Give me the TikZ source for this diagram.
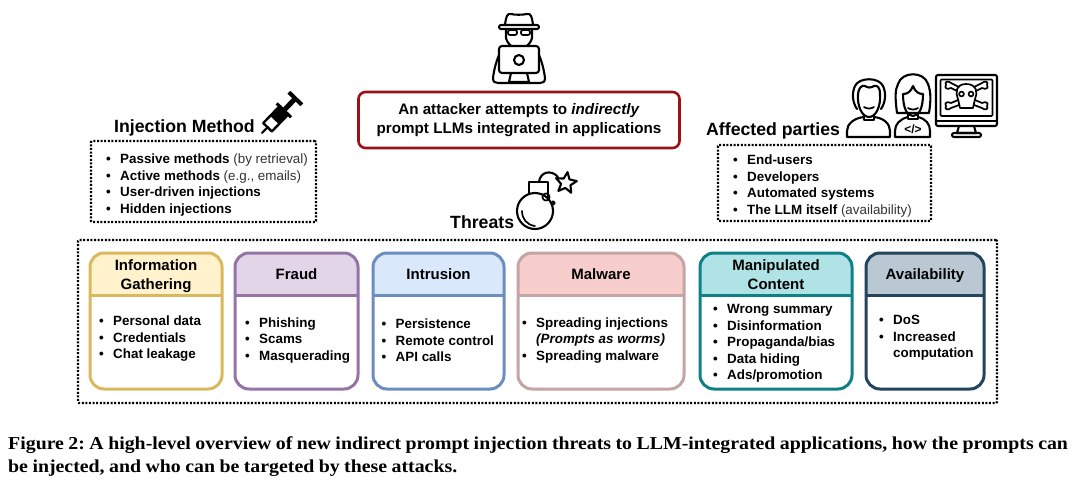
\documentclass[tikz,border=0pt]{standalone}
\usepackage{fontspec}
\setmainfont{Liberation Sans}
\newfontfamily\capfont[FakeStretch=1.09,WordSpace=0.9]{Liberation Serif}
\usetikzlibrary{shapes.geometric}
\definecolor{attack}{HTML}{A00F14}
\definecolor{infofill}{HTML}{FFF2CC}
\definecolor{infoline}{HTML}{D9B85E}
\definecolor{fraudfill}{HTML}{E1D5E7}
\definecolor{fraudline}{HTML}{9673A6}
\definecolor{intrfill}{HTML}{DAE8FC}
\definecolor{intrline}{HTML}{6C8EBF}
\definecolor{malfill}{HTML}{F8CECC}
\definecolor{malline}{HTML}{C4A4A4}
\definecolor{manifill}{HTML}{B0E3E6}
\definecolor{maniline}{HTML}{0E8088}
\definecolor{availfill}{HTML}{BAC8D3}
\definecolor{availline}{HTML}{23445D}
\definecolor{softtext}{HTML}{333333}
\newcommand{\bul}{\makebox[14pt][l]{\textbullet}}
\newcommand{\bulgap}{\hspace*{14pt}}
% one threat card: name, left, right, fill, line, title, title baseline
\newcommand{\threatcard}[7]{
  \fill[#4] (#2,295) [rounded corners=14pt] -- (#2,253) -- (#3,253) [sharp corners] -- (#3,295) -- cycle;
  \draw[#5,line width=3pt,rounded corners=14pt] (#2,253) rectangle (#3,389);
  \draw[#5,line width=3pt] (#2,295) -- (#3,295);
  \node[cardtitle] (#1) at ({(#2+#3)/2},#7) {#6};
}
\begin{document}
\begin{tikzpicture}[
  x=1pt,y=-1pt,
  dotbox/.style={draw,line width=2.2pt,dash pattern=on 2pt off 1.6pt,rounded corners=1pt},
  items/.style={anchor=west,inner sep=0pt,align=left,font=\fontsize{13.4}{16.5}\selectfont\bfseries},
  cardtitle/.style={anchor=base,align=center,inner sep=0pt,font=\fontsize{15}{19}\selectfont\bfseries},
  heading/.style={inner sep=0pt,font=\fontsize{17.7}{20}\selectfont\bfseries},
  icon/.style={line width=2.1pt,line join=round,line cap=round},
  thinicon/.style={line width=1.7pt},
]
  \useasboundingbox (0,0) rectangle (1080,485);

  % attacker
  \node[draw=attack,line width=2.6pt,rounded corners=7pt,minimum width=321pt,minimum height=56pt,align=center,inner sep=0pt,
    font=\fontsize{15.2}{19}\selectfont\bfseries] (attacker) at (519,120) {An attacker attempts to \textit{indirectly}\\prompt LLMs integrated in applications};
  \begin{scope}[icon]
    \draw (505,25) .. controls (506,17) and (507,13) .. (511,14) .. controls (515,15) and (522,15) .. (527,14) .. controls (531,13) and (532,17) .. (533,25);
    \draw[rounded corners=2pt] (499,25) rectangle (539,29);
    \draw (506,29) -- (506,38) .. controls (507,42) and (509,44) .. (511,46);
    \draw (532,29) -- (532,38) .. controls (531,42) and (529,44) .. (527,46);
    \draw[thinicon,rounded corners=2pt] (508,30) rectangle (517,35);
    \draw[thinicon,rounded corners=2pt] (521,30) rectangle (530,35);
    \draw[rounded corners=3pt] (499,46) rectangle (539,73);
    \draw (519,60) circle (5);
    \draw (511,73) -- (509,82) -- (529,82) -- (527,73);
    \draw (499,55) .. controls (496,62) and (494,70) .. (493,78) .. controls (493,82) and (495,83) .. (498,83) -- (540,83) .. controls (543,83) and (545,82) .. (545,78) .. controls (544,70) and (542,62) .. (539,55);
  \end{scope}

  % injection method
  \node[heading,anchor=west] (injtitle) at (114,128) {Injection Method};
  \begin{scope}[shift={(262,133)},rotate=46,icon]
    \draw (0,0) -- (8,0);
    \draw[line width=2.4pt] (8,-6) rectangle (30,6);
    \fill (18,-6) rectangle (30,6);
    \fill (30,-10) rectangle (33,10);
    \fill (33,-2.5) rectangle (47,2.5);
    \fill (46,-9) rectangle (50,9);
  \end{scope}
  \node[dotbox,minimum width=225pt,minimum height=81pt] (injbox) at (203.5,181.5) {};
  \node[items] (injlist) at (106,185) {\bul Passive methods {\mdseries\color{softtext}(by retrieval)}\\
    \bul Active methods {\mdseries\color{softtext}(e.g., emails)}\\
    \bul User-driven injections\\
    \bul Hidden injections};

  % affected parties
  \node[heading,anchor=west] (afftitle) at (706,131) {Affected parties};
  \begin{scope}[icon]
    % end user
    \draw (857,109) .. controls (852,102) and (852,92) .. (855,86) .. controls (859,77) and (879,77) .. (883,86) .. controls (886,92) and (886,102) .. (881,109);
    \draw (858,94) .. controls (859,87) and (862,85) .. (865,86) .. controls (868,88) and (871,88) .. (874,86) .. controls (877,85) and (880,87) .. (880,94) .. controls (881,106) and (876,117) .. (869,117) .. controls (862,117) and (857,106) .. (858,94);
    \draw (864,115) -- (864,120) -- (874,120) -- (874,115);
    \draw (864,117) .. controls (854,118) and (847,124) .. (847,131) -- (847,137) -- (890,137) -- (890,131) .. controls (890,124) and (884,118) .. (874,117);
    \draw[thinicon] (864,107) .. controls (867,109) and (871,109) .. (874,107);
    % developer
    \draw (897,113) .. controls (895,98) and (895,90) .. (898,84) .. controls (902,71) and (924,71) .. (928,84) .. controls (931,92) and (931,100) .. (929,113) -- (897,113);
    \draw (903,94) .. controls (907,94) and (911,92) .. (913,86) .. controls (915,92) and (919,94) .. (923,94) .. controls (923,108) and (919,116) .. (913,116) .. controls (907,116) and (903,108) .. (903,94);
    \draw[thinicon] (908,108) .. controls (911,110) and (915,110) .. (918,108);
    \draw (908,115) -- (908,119) -- (918,119) -- (918,115);
    \draw (908,117) .. controls (900,119) and (895,124) .. (895,131) -- (895,137) -- (930,137) -- (930,131) .. controls (930,124) and (926,119) .. (918,117);
    % compromised monitor
    \draw[rounded corners=2pt] (936,75) rectangle (997,126);
    \draw[thinicon,rounded corners=1pt] (940.5,79.5) rectangle (992.5,116);
    \draw (936,121) -- (997,121);
    \draw (959,126) -- (957,133) -- (976,133) -- (974,126);
    \draw[rounded corners=2pt] (952,133) rectangle (981,137);
    \draw[thinicon] (966,84) .. controls (956,84) and (955,93) .. (958,99) -- (960,108) -- (973,108) -- (975,99) .. controls (978,93) and (977,84) .. (966,84) -- cycle;
    \draw[thinicon] (961.5,94) circle (2.4) (971,94) circle (2.4);
    \draw[thinicon] (957,91) -- (951,88) .. controls (947,90) and (944,88) .. (946,85) .. controls (944,82) and (948,80) .. (951,83) -- (959,87);
    \draw[thinicon] (976,91) -- (982,88) .. controls (986,90) and (989,88) .. (987,85) .. controls (989,82) and (985,80) .. (982,83) -- (974,87);
    \draw[thinicon] (958,100) -- (951,103) .. controls (947,101) and (944,103) .. (946,106) .. controls (944,109) and (948,111) .. (951,108) -- (959,105);
    \draw[thinicon] (975,100) -- (982,103) .. controls (986,101) and (989,103) .. (987,106) .. controls (989,109) and (985,111) .. (982,108) -- (974,105);
  \end{scope}
  \node[inner sep=0pt,font=\fontsize{12}{12}\selectfont\bfseries] (devtag) at (913,129) {</>};
  \node[dotbox,minimum width=213pt,minimum height=76pt] (affbox) at (824.5,183) {};
  \node[items] (afflist) at (733,186) {\bul End-users\\
    \bul Developers\\
    \bul Automated systems\\
    \bul The LLM itself {\mdseries\color{softtext}(availability)}};

  % threats
  \node[heading,anchor=west] (threats) at (450,222) {Threats};
  \begin{scope}[icon]
    \draw (535,211) circle (18);
    \draw (529,194) -- (529,182) -- (548,182) -- (548,199);
    \draw (539,182) .. controls (540,172) and (551,169) .. (558,177);
    \draw[thinicon] (522,211) .. controls (522,219) and (527,225) .. (535,226);
    \draw[thinicon] (546,197) circle (3.6) (553,203) circle (1.8);
    \node[star,star points=5,star point ratio=2.2,draw,line width=2.1pt,inner sep=0pt,minimum size=22pt,rotate=-8] (spark) at (566,183) {};
  \end{scope}
  \node[dotbox,minimum width=919pt,minimum height=163pt] (threatbox) at (537.5,321.5) {};

  \threatcard{info}{90}{222}{infofill}{infoline}{Information\\Gathering}{289}
  \threatcard{fraud}{235}{358}{fraudfill}{fraudline}{Fraud}{279}
  \threatcard{intrusion}{373}{504}{intrfill}{intrline}{Intrusion}{279}
  \threatcard{malware}{518}{684}{malfill}{malline}{Malware}{279}
  \threatcard{manip}{700}{852}{manifill}{maniline}{Manipulated\\Content}{289}
  \threatcard{avail}{866}{984}{availfill}{availline}{Availability}{279}

  \node[items] (infolist) at (99,339) {\bul Personal data\\\bul Credentials\\\bul Chat leakage};
  \node[items] (fraudlist) at (245,340.5) {\bul Phishing\\\bul Scams\\\bul Masquerading};
  \node[items] (intrlist) at (381.5,340.5) {\bul Persistence\\\bul Remote control\\\bul API calls};
  \node[items] (mallist) at (522,340.5) {\bul Spreading injections\\\bulgap\textit{(Prompts as worms)}\\\bul Spreading malware};
  \node[items] (manilist) at (713,343.5) {\bul Wrong summary\\\bul Disinformation\\\bul Propaganda/bias\\\bul Data hiding\\\bul Ads/promotion};
  \node[items] (availlist) at (879,338) {\bul DoS\\\bul Increased\\\bulgap computation};

  \node[anchor=west,inner sep=0pt,align=left,font=\capfont\fontsize{18.2}{23}\selectfont\bfseries\frenchspacing] (caption) at (8,457) {Figure 2: A high-level overview of new indirect prompt injection threats to LLM-integrated applications, how the prompts can\\be injected, and who can be targeted by these attacks.};
\end{tikzpicture}
\end{document}
